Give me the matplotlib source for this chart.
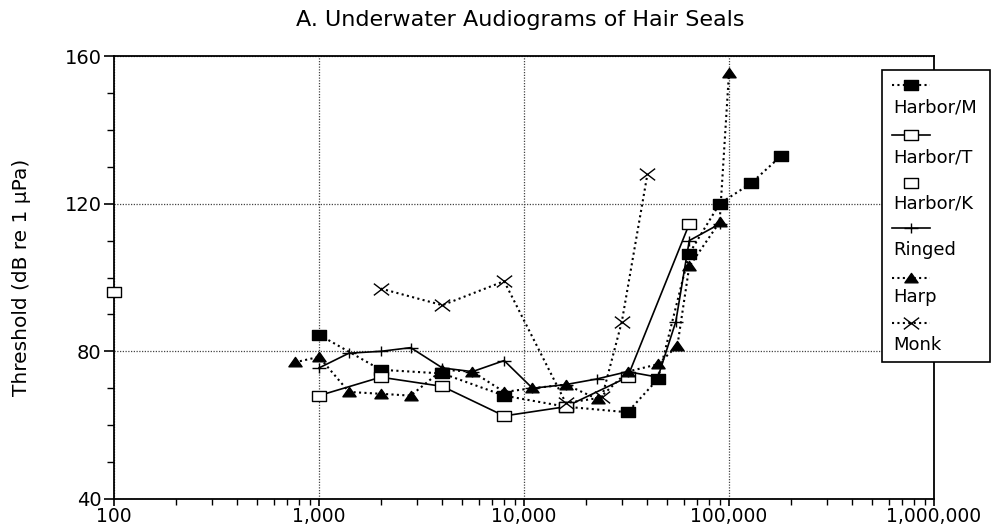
import matplotlib
matplotlib.use("Agg")
import matplotlib.pyplot as plt
from matplotlib.path import Path
from matplotlib.lines import Line2D
from matplotlib.patches import Rectangle
from matplotlib.ticker import FixedLocator, LogLocator, NullFormatter, FuncFormatter, MultipleLocator

# ---- data (frequency in Hz, threshold in dB re 1 uPa) ----
harbor_m_f = [1000, 2000, 4000, 8000, 16000, 32000, 45000, 64000, 90000, 128000, 180000]
harbor_m_db = [84.5, 75, 74, 68, 65, 63.5, 72.5, 106.5, 120, 125.5, 133]

harbor_t_f = [1000, 2000, 4000, 8000, 16000, 32000, 64000]
harbor_t_db = [68, 73, 70.5, 62.5, 65, 73, 114.5]

harbor_k_f = [100]
harbor_k_db = [96]

ringed_f = [1000, 1400, 2000, 2800, 4000, 5600, 8000, 11000, 16000, 22600, 32000, 45000, 55000, 64000, 90000]
ringed_db = [75.5, 79.5, 80, 81, 75.5, 74.5, 77.5, 70, 71, 72.5, 74.5, 73, 88, 110, 114.5]

harp_f = [760, 1000, 1400, 2000, 2800, 4000, 5600, 8000, 11000, 16000, 23000, 32000, 45000, 56000, 64000, 90000, 100000]
harp_db = [77, 78.5, 69, 68.5, 68, 75, 74.5, 69, 70, 71, 67, 74.5, 76.5, 81.5, 103, 115, 155.5]

monk_f = [2000, 4000, 8000, 16000, 24000, 30000, 40000]
monk_db = [97, 92.5, 99, 66, 67.5, 88, 128]

x_ticks = [100, 1000, 10000, 100000, 1000000]
y_ticks = [40, 80, 120, 160]
series_names = ["Harbor/M", "Harbor/T", "Harbor/K", "Ringed", "Harp", "Monk"]

# ---- marker shapes ----
rect_m = Path([(-1.35, -1), (1.35, -1), (1.35, 1), (-1.35, 1), (-1.35, -1)],
              [Path.MOVETO, Path.LINETO, Path.LINETO, Path.LINETO, Path.CLOSEPOLY])
tri_m = Path([(-1.3, -0.85), (1.3, -0.85), (0, 1.0), (-1.3, -0.85)],
             [Path.MOVETO, Path.LINETO, Path.LINETO, Path.CLOSEPOLY])
plus_m = Path([(-1.3, 0), (1.3, 0), (0, -1), (0, 1)],
              [Path.MOVETO, Path.LINETO, Path.MOVETO, Path.LINETO])
x_m = Path([(-1.3, -1), (1.3, 1), (-1.3, 1), (1.3, -1)],
           [Path.MOVETO, Path.LINETO, Path.MOVETO, Path.LINETO])

dot = (0, (1, 1.6))
styles = {
    "Harbor/M": dict(ls=dot, lw=1.5, marker=rect_m, ms=9.5, mfc="black", mec="black", color="black"),
    "Harbor/T": dict(ls="-", lw=1.2, marker=rect_m, ms=9.5, mfc="white", mec="black", mew=1.0, color="black"),
    "Harbor/K": dict(ls="none", lw=1.0, marker=rect_m, ms=9.5, mfc="white", mec="black", mew=1.0, color="black"),
    "Ringed": dict(ls="-", lw=1.2, marker=plus_m, ms=10, mew=1.0, color="black"),
    "Harp": dict(ls=dot, lw=1.5, marker=tri_m, ms=9.5, mfc="black", mec="black", color="black"),
    "Monk": dict(ls=dot, lw=1.5, marker=x_m, ms=11, mew=1.0, color="black"),
}
data = {
    "Harbor/M": (harbor_m_f, harbor_m_db),
    "Harbor/T": (harbor_t_f, harbor_t_db),
    "Harbor/K": (harbor_k_f, harbor_k_db),
    "Ringed": (ringed_f, ringed_db),
    "Harp": (harp_f, harp_db),
    "Monk": (monk_f, monk_db),
}

fig = plt.figure(figsize=(9.99, 5.29), dpi=100)
ax = fig.add_axes([114 / 999, 1 - 499 / 529, (934 - 114) / 999, (499 - 56) / 529])

for name in series_names:
    f, db = data[name]
    ax.plot(f, db, clip_on=False, zorder=3, **styles[name])

ax.set_xscale("log")
ax.set_xlim(100, 1000000)
ax.set_ylim(40, 160)

ax.xaxis.set_major_locator(FixedLocator(x_ticks))
ax.xaxis.set_major_formatter(FuncFormatter(lambda v, p: f"{int(round(v)):,}"))
ax.xaxis.set_minor_locator(LogLocator(base=10, subs=range(2, 10)))
ax.xaxis.set_minor_formatter(NullFormatter())
ax.yaxis.set_major_locator(FixedLocator(y_ticks))
ax.yaxis.set_minor_locator(MultipleLocator(10))

ax.tick_params(axis="x", which="major", direction="out", length=5, width=1.2, labelsize=13.5, pad=0.5)
ax.tick_params(axis="x", which="minor", direction="out", length=4, width=1.0)
ax.tick_params(axis="y", which="major", direction="out", length=7, width=1.2, labelsize=14, pad=2)
ax.tick_params(axis="y", which="minor", direction="out", length=5, width=1.0)

ax.grid(True, which="major", color="#444444", ls=(0, (1, 1.2)), lw=0.9)
for s in ax.spines.values():
    s.set_linewidth(1.3)

ax.set_ylabel("Threshold (dB re 1 μPa)", fontsize=14.5, labelpad=24)
fig.text(520 / 999, 1 - 20 / 529, "A. Underwater Audiograms of Hair Seals", ha="center", va="center", fontsize=16)

# ---- custom legend (handle above label) ----
def fx(px):
    return px / 999

def fy(py):
    return 1 - py / 529

fig.patches.append(Rectangle((fx(882), fy(362)), fx(990) - fx(882), fy(70) - fy(362),
                             transform=fig.transFigure, fill=True, facecolor="white",
                             edgecolor="black", lw=1.2, zorder=5))
handle_y = [85, 135, 183, 228, 278, 323]
label_y = [108, 157, 203, 250, 297, 345]
for name, hy, ly in zip(series_names, handle_y, label_y):
    st = dict(styles[name])
    if st["ls"] != "none":
        fig.lines.append(Line2D([fx(892), fx(930)], [fy(hy), fy(hy)], transform=fig.transFigure,
                                ls=st["ls"], lw=st["lw"], color="black", zorder=6))
    m = {k: v for k, v in st.items() if k not in ("ls", "lw", "color")}
    fig.lines.append(Line2D([fx(911)], [fy(hy)], transform=fig.transFigure, ls="none",
                            color="black", zorder=7, **m))
    fig.text(fx(893), fy(ly), name, ha="left", va="center", fontsize=13, zorder=8)

fig.savefig("out.png", dpi=100)
